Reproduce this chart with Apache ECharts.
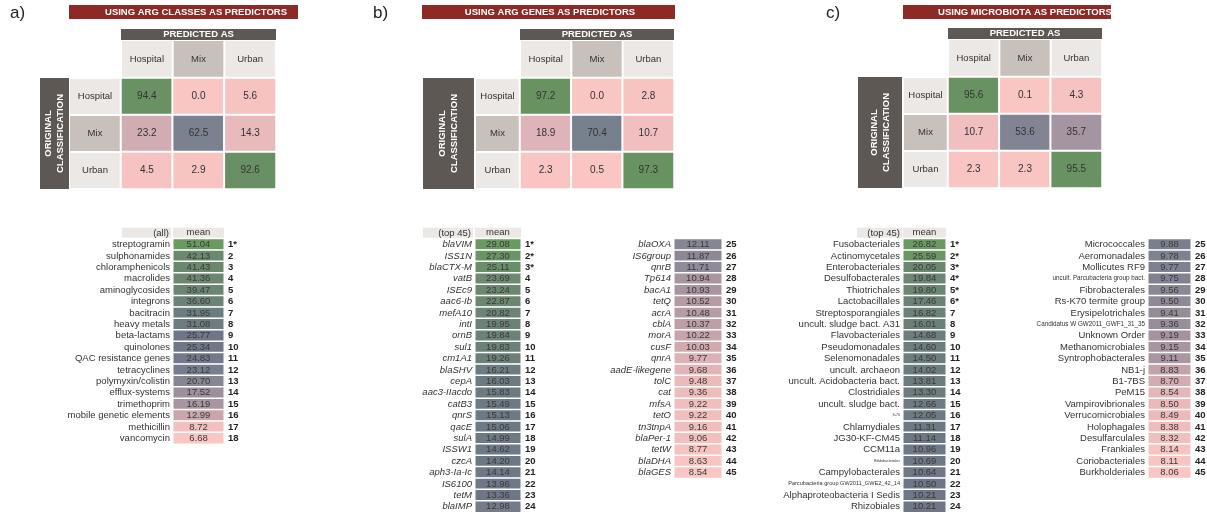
<!DOCTYPE html>
<html>
<head>
<meta charset="utf-8">
<script src="https://cdn.jsdelivr.net/npm/echarts@6/dist/echarts.min.js"></script>
<style>
html, body { margin: 0; background: #fff; }
#chart { width: 1207px; height: 517px; }
</style>
</head>
<body>
<div id="chart"></div>
<script>
// classes used by the three confusion matrices
const classes = ['Hospital', 'Mix', 'Urban'];

// confusion matrices: rows = original classification, cols = predicted (%)
const matrixArgClasses = [[94.4, 0.0, 5.6], [23.2, 62.5, 14.3], [4.5, 2.9, 92.6]];
const matrixArgGenes = [[97.2, 0.0, 2.8], [18.9, 70.4, 10.7], [2.3, 0.5, 97.3]];
const matrixMicrobiota = [[95.6, 0.1, 4.3], [10.7, 53.6, 35.7], [2.3, 2.3, 95.5]];

// a) ARG classes (all)
const argClassNames = ['streptogramin', 'sulphonamides', 'chloramphenicols', 'macrolides', 'aminoglycosides',
    'integrons', 'bacitracin', 'heavy metals', 'beta-lactams', 'quinolones', 'QAC resistance genes',
    'tetracyclines', 'polymyxin/colistin', 'efflux-systems', 'trimethoprim', 'mobile genetic elements',
    'methicillin', 'vancomycin'];
const argClassMeans = [51.04, 42.13, 41.43, 41.36, 39.47, 36.60, 31.95, 31.08, 25.77, 25.34, 24.83,
    23.12, 20.70, 17.52, 16.19, 12.99, 8.72, 6.68];
const argClassStars = 1;

// b) ARG genes (top 45)
const argGeneNames = ['blaVIM', 'ISS1N', 'blaCTX-M', 'vatB', 'ISEc9', 'aac6-Ib', 'mefA10', 'intI', 'ornB',
    'sul1', 'cm1A1', 'blaSHV', 'cepA', 'aac3-IIacdo', 'catB3', 'qnrS', 'qacE', 'sulA', 'ISSW1', 'czcA',
    'aph3-Ia-Ic', 'IS6100', 'tetM', 'blaIMP',
    'blaOXA', 'IS6group', 'qnrB', 'Tp614', 'bacA1', 'tetQ', 'acrA', 'cblA', 'morA', 'cusF', 'qnrA',
    'aadE-likegene', 'tolC', 'cat', 'mfsA', 'tetO', 'tn3tnpA', 'blaPer-1', 'tetW', 'blaDHA', 'blaGES'];
const argGeneMeans = [29.08, 27.30, 25.11, 23.69, 23.24, 22.87, 20.82, 19.95, 19.84, 19.83, 19.26, 16.21,
    16.03, 15.83, 15.49, 15.13, 15.06, 14.99, 14.62, 14.20, 14.14, 13.96, 13.36, 12.98,
    12.11, 11.87, 11.71, 10.94, 10.93, 10.52, 10.48, 10.37, 10.22, 10.03, 9.77, 9.68, 9.48, 9.36,
    9.22, 9.22, 9.16, 9.06, 8.77, 8.63, 8.54];
const argGeneStars = 3;

// c) microbiota orders (top 45)
const microNames = ['Fusobacteriales', 'Actinomycetales', 'Enterobacteriales', 'Desulfobacterales',
    'Thiotrichales', 'Lactobacillales', 'Streptosporangiales', 'uncult. sludge bact. A31', 'Flavobacteriales',
    'Pseudomonadales', 'Selenomonadales', 'uncult. archaeon', 'uncult. Acidobacteria bact.', 'Clostridiales',
    'uncult. sludge bact.', 'S-70', 'Chlamydiales', 'JG30-KF-CM45', 'CCM11a', 'Bifidobacteriales',
    'Campylobacterales', 'Parcubacteria group GW2011_GWE2_42_14', 'Alphaproteobacteria I Sedis', 'Rhizobiales',
    'Micrococcales', 'Aeromonadales', 'Mollicutes RF9', 'uncult. Parcubacteria group bact.', 'Fibrobacterales',
    'Rs-K70 termite group', 'Erysipelotrichales', 'Candidatus W GW2011_GWF1_31_35', 'Unknown Order',
    'Methanomicrobiales', 'Syntrophobacterales', 'NB1-j', 'B1-7BS', 'PeM15', 'Vampirovibrionales',
    'Verrucomicrobiales', 'Holophagales', 'Desulfarculales', 'Frankiales', 'Coriobacteriales', 'Burkholderiales'];
const microMeans = [26.82, 25.59, 20.05, 19.84, 19.80, 17.46, 16.82, 16.01, 14.68, 14.60, 14.50, 14.02,
    13.81, 13.30, 12.66, 12.05, 11.31, 11.14, 10.96, 10.69, 10.64, 10.50, 10.21, 10.21,
    9.88, 9.78, 9.77, 9.75, 9.56, 9.50, 9.41, 9.36, 9.19, 9.15, 9.11, 8.83, 8.70, 8.54, 8.50, 8.49,
    8.38, 8.32, 8.14, 8.11, 8.06];
const microStars = 6;

const FONT = '"Liberation Sans", Arial, sans-serif';
const DARK = '#5e5854';
const RED = '#8d2a26';
const LIGHT = '#ece8e5';
const MIXGRAY = '#c7c0bb';

// long microbiota names are printed smaller in the figure
const tinyLabels = {
    'S-70': 't3', 'Bifidobacteriales': 't3',
    'Parcubacteria group GW2011_GWE2_42_14': 't5',
    'uncult. Parcubacteria group bact.': 't6',
    'Candidatus W GW2011_GWF1_31_35': 't6'
};

// excel-like 3 colour scale: min -> 0, median -> 0.5, max -> 1
function scalePos(values) {
    let s = [...values].sort((a, b) => a - b);
    let n = s.length;
    let med = n % 2 ? s[(n - 1) / 2] : (s[n / 2 - 1] + s[n / 2]) / 2;
    let min = s[0], max = s[n - 1];
    return values.map(v => v <= med ? 0.5 * (v - min) / (med - min) : 0.5 + 0.5 * (v - med) / (max - med));
}

let grids = [], xAxes = [], yAxes = [], series = [];

// confusion matrices
const matrices = [
    {data: matrixArgClasses, left: 121, top: 78, width: 155, height: 111, rowHead: 51},
    {data: matrixArgGenes, left: 520, top: 78, width: 154, height: 111, rowHead: 44},
    {data: matrixMicrobiota, left: 948, top: 77, width: 154, height: 111, rowHead: 44}
];
matrices.forEach(m => {
    let gi = grids.length;
    grids.push({left: m.left, top: m.top, width: m.width, height: m.height, outerBoundsMode: 'none'});
    let cw = m.width / 3, ch = m.height / 3;
    let box = (w, h) => ({
        l: {width: w, height: h, lineHeight: h, align: 'center', backgroundColor: LIGHT, color: '#333', fontSize: 9.5, fontFamily: FONT},
        m: {width: w, height: h, lineHeight: h, align: 'center', backgroundColor: MIXGRAY, color: '#333', fontSize: 9.5, fontFamily: FONT}
    });
    xAxes.push({
        gridIndex: gi, type: 'category', data: classes, position: 'top',
        axisLine: {show: false}, axisTick: {show: false}, splitLine: {show: false},
        axisLabel: {interval: 0, margin: 1, formatter: v => v === 'Mix' ? '{m|' + v + '}' : '{l|' + v + '}', rich: box(cw - 2, 36)}
    });
    yAxes.push({
        gridIndex: gi, type: 'category', data: classes, inverse: true,
        axisLine: {show: false}, axisTick: {show: false}, splitLine: {show: false},
        axisLabel: {interval: 0, margin: 1, formatter: v => v === 'Mix' ? '{m|' + v + '}' : '{l|' + v + '}', rich: box(m.rowHead - 1, ch - 2)}
    });
    let data = [];
    m.data.forEach((row, r) => row.forEach((v, c) => data.push([c, r, v])));
    series.push({
        type: 'heatmap', xAxisIndex: xAxes.length - 1, yAxisIndex: yAxes.length - 1, data: data,
        itemStyle: {borderColor: '#fff', borderWidth: 2},
        label: {show: true, formatter: p => p.value[2].toFixed(1), color: '#333', fontSize: 10, fontFamily: FONT},
        emphasis: {disabled: true}
    });
});

// ranking tables
const PITCH = 11.4;
const ROW0 = 238.8;
const tables = [
    {names: argClassNames, means: argClassMeans, stars: argClassStars, italic: false,
        cols: [{from: 0, to: 18, left: 173, width: 51, head: true}]},
    {names: argGeneNames, means: argGeneMeans, stars: argGeneStars, italic: true,
        cols: [{from: 0, to: 24, left: 475, width: 46, head: true}, {from: 24, to: 45, left: 674, width: 48, head: false}]},
    {names: microNames, means: microMeans, stars: microStars, italic: false,
        cols: [{from: 0, to: 24, left: 903, width: 43, head: true}, {from: 24, to: 45, left: 1148, width: 43, head: false}]}
];
let tableSeries = [];
tables.forEach(t => {
    let pos = scalePos(t.means);
    let ranks = t.names.map((n, i) => (i + 1) + (i < t.stars ? '*' : ''));
    t.cols.forEach(col => {
        let gi = grids.length;
        let n = col.to - col.from;
        grids.push({left: col.left, top: ROW0, width: col.width, height: n * PITCH, outerBoundsMode: 'none'});
        xAxes.push({
            gridIndex: gi, type: 'category', data: ['mean'], position: 'top',
            axisLine: {show: false}, axisTick: {show: false},
            axisLabel: {show: col.head, margin: 1, width: col.width, height: 10, lineHeight: 10, align: 'center',
                backgroundColor: LIGHT, color: '#333', fontSize: 9.5, fontFamily: FONT}
        });
        yAxes.push({
            gridIndex: gi, type: 'category', inverse: true, data: t.names.slice(col.from, col.to),
            axisLine: {show: false}, axisTick: {show: false},
            axisLabel: {interval: 0, margin: 3, color: '#333', fontSize: 9.5, fontFamily: FONT,
                fontStyle: t.italic ? 'italic' : 'normal',
                formatter: v => tinyLabels[v] ? '{' + tinyLabels[v] + '|' + v + '}' : v,
                rich: {t3: {fontSize: 3.5, fontFamily: FONT, color: '#333'}, t5: {fontSize: 5.6, fontFamily: FONT, color: '#333'},
                    t6: {fontSize: 6.3, fontFamily: FONT, color: '#333'}}}
        });
        let nameAxis = yAxes.length - 1;
        yAxes.push({
            gridIndex: gi, type: 'category', inverse: true, position: 'right', data: ranks.slice(col.from, col.to),
            axisLine: {show: false}, axisTick: {show: false},
            axisLabel: {interval: 0, margin: 4, color: '#222', fontWeight: 'bold', fontSize: 9.5, fontFamily: FONT}
        });
        tableSeries.push(series.length);
        series.push({
            type: 'heatmap', xAxisIndex: xAxes.length - 1, yAxisIndex: nameAxis,
            data: t.means.slice(col.from, col.to).map((v, i) => [0, i, v, pos[col.from + i]]),
            itemStyle: {borderColor: '#fff', borderWidth: 1.5},
            label: {show: true, formatter: p => p.value[2].toFixed(2), color: '#3a3a3a', fontSize: 9.5, fontFamily: FONT},
            emphasis: {disabled: true}
        });
    });
});

// decorations: panel letters, title bars, header bars
function bar(x, y, w, h, color, text, rotate, textX) {
    return {
        type: 'group', silent: true,
        children: [
            {type: 'rect', shape: {x: x, y: y, width: w, height: h}, style: {fill: color}},
            {type: 'text', x: textX || x + w / 2, y: y + h / 2, rotation: rotate ? Math.PI / 2 : 0,
                style: {text: text, fill: '#fff', font: 'bold 9.5px ' + FONT, align: 'center', verticalAlign: 'middle', lineHeight: 12}}
        ]
    };
}
function letter(x, text) {
    return {type: 'text', x: x, y: 13, silent: true,
        style: {text: text, fill: '#222', font: '17px ' + FONT, verticalAlign: 'middle'}};
}
function headCell(x, w, text) {
    return {
        type: 'group', silent: true,
        children: [
            {type: 'rect', shape: {x: x, y: 227.8, width: w, height: 10}, style: {fill: LIGHT}},
            {type: 'text', x: x + w - 2, y: 233, style: {text: text, fill: '#333', font: '9.5px ' + FONT, align: 'right', verticalAlign: 'middle'}}
        ]
    };
}
const graphics = [
    letter(10, 'a)'), letter(373, 'b)'), letter(826, 'c)'),
    bar(69, 5, 229, 14, RED, 'USING ARG CLASSES AS PREDICTORS', false, 196),
    bar(422, 5, 253, 14, RED, 'USING ARG GENES AS PREDICTORS', false, 550),
    bar(903, 5, 208, 14, RED, 'USING MICROBIOTA AS PREDICTORS', false, 1025),
    bar(121, 29, 155, 11, DARK, 'PREDICTED AS'),
    bar(520, 29, 154, 11, DARK, 'PREDICTED AS'),
    bar(948, 28, 154, 11, DARK, 'PREDICTED AS'),
    bar(40, 78, 29, 111, DARK, 'ORIGINAL\nCLASSIFICATION', true),
    bar(423, 78, 51, 111, DARK, 'ORIGINAL\nCLASSIFICATION', true),
    bar(858, 77, 44, 111, DARK, 'ORIGINAL\nCLASSIFICATION', true),
    headCell(122, 49, '(all)'),
    headCell(423, 50, '(top 45)'),
    headCell(857, 45, '(top 45)')
];

let chart = echarts.init(document.getElementById('chart'), null, {renderer: 'canvas'});
chart.setOption({
    animation: false,
    backgroundColor: '#fff',
    textStyle: {fontFamily: FONT},
    grid: grids,
    xAxis: xAxes,
    yAxis: yAxes,
    visualMap: [
        {type: 'continuous', show: false, seriesIndex: [0, 1, 2], dimension: 2, min: 0, max: 100,
            inRange: {color: ['#f9c6c3', '#f3c0c0', '#dcb2b7', '#b9a0aa', '#968d9c', '#868596',
                '#7b8291', '#77808e', '#728476', '#6a8f66', '#67945f']}},
        {type: 'continuous', show: false, seriesIndex: tableSeries, dimension: 3, min: 0, max: 1,
            inRange: {color: ['#f9c6c3', '#ecbabb', '#b89ca5', '#988e9b', '#7e8190', '#6e7788',
                '#6c7c80', '#6c8178', '#6b8770', '#6b9068', '#6a9961']}}
    ],
    series: series,
    graphic: graphics
});
</script>
</body>
</html>
